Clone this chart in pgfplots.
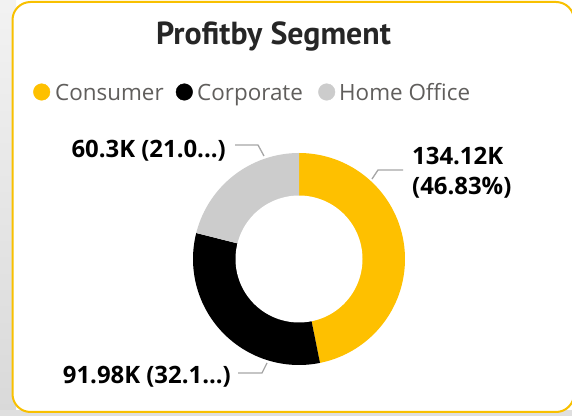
\documentclass[border=0pt]{standalone}
\usepackage{fontspec}
\setmainfont{Open Sans}
\newfontfamily\titlefont{PT Sans}
\usepackage{pgfplots}
\usepackage{pgfplotstable}
\pgfplotsset{compat=1.18}

\definecolor{cons}{HTML}{FEC000}
\definecolor{corp}{HTML}{000000}
\definecolor{home}{HTML}{CCCCCC}
\definecolor{cardline}{HTML}{F8C000}
\definecolor{legtext}{HTML}{605E5C}
\definecolor{leader}{HTML}{A6A6A6}

% profit by segment (K)
\pgfplotstableread{
segment   profit
Consumer  134.12
Corporate 91.98
HomeOffice 60.3
}\segdata
\pgfplotstablegetelem{0}{profit}\of\segdata \let\vA\pgfplotsretval
\pgfplotstablegetelem{1}{profit}\of\segdata \let\vB\pgfplotsretval
\pgfplotstablegetelem{2}{profit}\of\segdata \let\vC\pgfplotsretval
\pgfmathsetmacro{\tot}{\vA+\vB+\vC}
% clockwise from 12 o'clock
\pgfmathsetmacro{\aA}{90-\vA/\tot*360}
\pgfmathsetmacro{\aB}{\aA-\vB/\tot*360}
\def\cx{299}\def\cy{157}\def\ro{106}\def\ri{63.5}
\tikzset{lbl/.style={anchor=base west, font=\fontsize{24}{29}\selectfont\bfseries, inner sep=0pt},
  leg/.style={anchor=base west, font=\fontsize{22.5}{27}\selectfont, text=legtext, inner sep=0pt}}

\begin{document}
\begin{tikzpicture}
\begin{axis}[
    width=572bp, height=416bp, scale only axis,
    xmin=0, xmax=572, ymin=0, ymax=416,
    hide axis, clip=false,
  ]
  % background and card
  \fill[white] (axis cs:0,0) rectangle (axis cs:572,416);
  \shade[top color=gray!10, bottom color=gray!30] (axis cs:0,0) rectangle (axis cs:16,416);
  \fill[gray!25] (axis cs:0,0) rectangle (axis cs:572,6);
  \draw[overlay, cardline, line width=2bp, fill=white, rounded corners=18bp]
    (axis cs:12.5,4) rectangle (axis cs:574,414);

  % donut segments
  \addplot[fill=cons, draw=none, domain=\aA:90, samples=90, variable=\t]
    ({\cx+\ro*cos(t)}, {\cy+\ro*sin(t)}) -- (axis cs:\cx,\cy) -- cycle;
  \addplot[fill=corp, draw=none, domain=\aB:\aA, samples=70, variable=\t]
    ({\cx+\ro*cos(t)}, {\cy+\ro*sin(t)}) -- (axis cs:\cx,\cy) -- cycle;
  \addplot[fill=home, draw=none, domain=-270:\aB, samples=50, variable=\t]
    ({\cx+\ro*cos(t)}, {\cy+\ro*sin(t)}) -- (axis cs:\cx,\cy) -- cycle;
  \addplot[fill=white, draw=none, domain=0:360, samples=120, variable=\t]
    ({\cx+\ri*cos(t)}, {\cy+\ri*sin(t)}) -- cycle;

  % leader lines
  \addplot[leader, line width=1.3bp] coordinates {(403,246) (378,246) (372,237)};
  \addplot[leader, line width=1.3bp] coordinates {(235,271) (258,271) (264,260)};
  \addplot[leader, line width=1.3bp] coordinates {(238,43) (262,43) (267,53)};

  % data labels
  \node[lbl] at (axis cs:412,251) {134.12K};
  \node[lbl] at (axis cs:412,221) {(46.83\%)};
  \node[lbl, anchor=base east] at (axis cs:226,258.7) {60.3K (21.0...)};
  \node[lbl, anchor=base east] at (axis cs:231,32.7) {91.98K (32.1...)};

  % title
  \node[anchor=base, font=\titlefont\fontsize{32}{38}\selectfont\bfseries,
        text=black!85, inner sep=0pt] at (axis cs:273.5,371) {Profitby Segment};

  % legend
  \addplot[only marks, mark=*, mark size=8.3bp, cons] coordinates {(41.7,324)};
  \addplot[only marks, mark=*, mark size=8.3bp, corp] coordinates {(184.3,324)};
  \addplot[only marks, mark=*, mark size=8.3bp, home] coordinates {(326.7,324)};
  \node[leg] at (axis cs:55,315.5) {Consumer};
  \node[leg] at (axis cs:197,315.5) {Corporate};
  \node[leg] at (axis cs:339,315.5) {Home Office};
\end{axis}
\end{tikzpicture}
\end{document}
